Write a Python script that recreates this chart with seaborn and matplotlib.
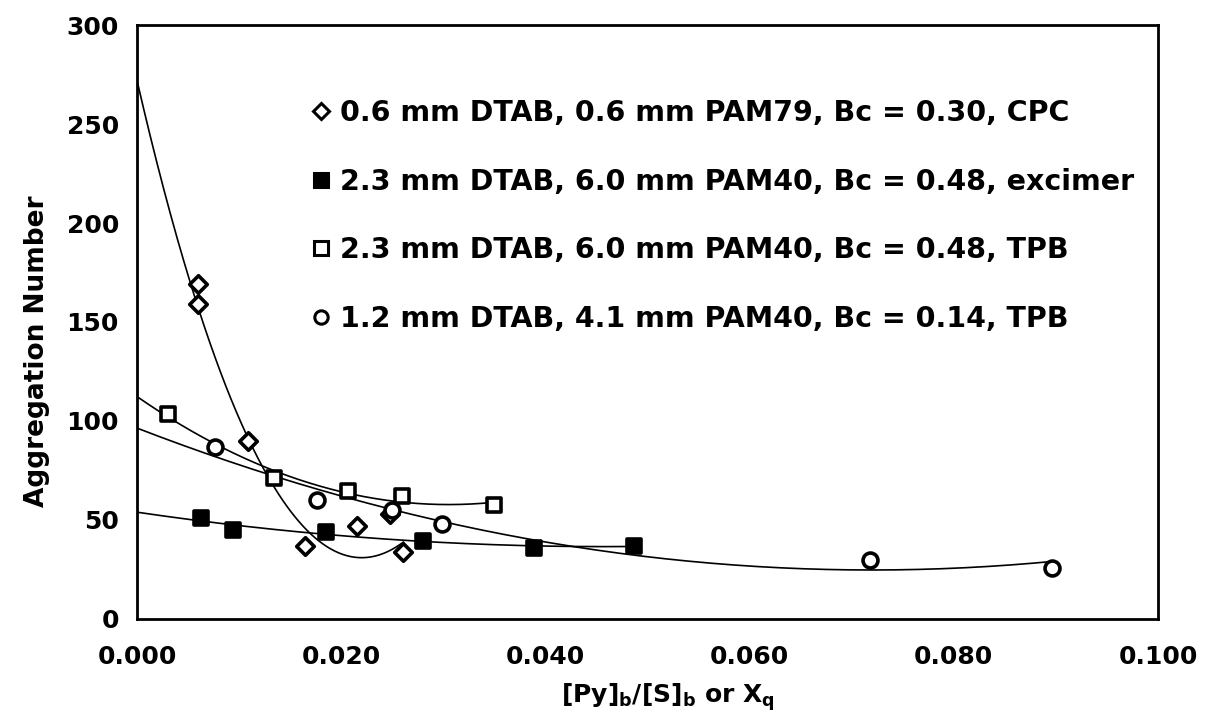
import numpy as np
import pandas as pd
import matplotlib
matplotlib.use("Agg")
import matplotlib.pyplot as plt
import seaborn as sns
from matplotlib.lines import Line2D

# data
cpc_x = [0.0060, 0.0060, 0.0109, 0.0165, 0.0215, 0.0248, 0.0261]
cpc_y = [169, 159, 90, 37, 47, 53, 34]
# cubic trend line of the CPC series, coefficients estimated from the drawn curve
cpc_trend = [-9.39e5, 5.39e5, -2.236e4, 272]

exc_x = [0.0063, 0.0094, 0.0185, 0.0280, 0.0389, 0.0487]
exc_y = [51, 45, 44, 39.5, 36, 37]

tpb1_x = [0.0030, 0.0134, 0.0207, 0.0260, 0.0350]
tpb1_y = [103.5, 71, 64.5, 62, 57.5]

tpb2_x = [0.0076, 0.0176, 0.0250, 0.0299, 0.0718, 0.0896]
tpb2_y = [87, 60, 55, 48, 30, 26]

labels = [
    "0.6 mm DTAB, 0.6 mm PAM79, Bc = 0.30, CPC",
    "2.3 mm DTAB, 6.0 mm PAM40, Bc = 0.48, excimer",
    "2.3 mm DTAB, 6.0 mm PAM40, Bc = 0.48, TPB",
    "1.2 mm DTAB, 4.1 mm PAM40, Bc = 0.14, TPB",
]
x_ticks = [0.0, 0.02, 0.04, 0.06, 0.08, 0.1]
y_ticks = [0, 50, 100, 150, 200, 250, 300]

sns.set_theme(style="white")
plt.rcParams["font.family"] = ["DejaVu Sans"]
plt.rcParams["font.weight"] = "bold"
plt.rcParams["mathtext.fontset"] = "dejavusans"

fig = plt.figure(figsize=(12.05, 7.21), dpi=100)
ax = fig.add_axes([0.1137, 0.1415, 0.8473, 0.8238])

# (x, y, marker, fill, trend: polynomial degree or fixed coefficients)
series = [
    (cpc_x, cpc_y, "D", "white", cpc_trend),
    (exc_x, exc_y, "s", "black", 2),
    (tpb1_x, tpb1_y, "s", "white", 2),
    (tpb2_x, tpb2_y, "o", "white", 2),
]

handles = []
for (xs, ys, mk, fc, fit), lab in zip(series, labels):
    coef = np.polyfit(xs, ys, fit) if isinstance(fit, int) else fit
    xx = np.linspace(0, max(xs), 200)
    trend = pd.DataFrame({"x": xx, "y": np.polyval(coef, xx)})
    sns.lineplot(data=trend, x="x", y="y", ax=ax, color="black", linewidth=1.2)
    pts = pd.DataFrame({"x": xs, "y": ys})
    ms = 10 if mk == "D" else 12
    sns.scatterplot(data=pts, x="x", y="y", ax=ax, marker=mk, s=ms ** 2 * 0.8,
                    facecolor=fc, edgecolor="black", linewidth=2.6, zorder=3)
    handles.append(Line2D([], [], linestyle="none", marker=mk, markersize=ms * 0.8,
                          markerfacecolor=fc, markeredgecolor="black",
                          markeredgewidth=2.2))

ax.set_xlim(0, 0.1)
ax.set_ylim(0, 300)
ax.set_xticks(x_ticks)
ax.set_yticks(y_ticks)
ax.set_xticklabels([f"{t:.3f}" for t in x_ticks])
ax.tick_params(axis="both", direction="inout", length=14, width=1.5,
               labelsize=18, color="black", labelcolor="black")
ax.tick_params(axis="x", pad=12)
ax.tick_params(axis="y", pad=6)
for side in ax.spines.values():
    side.set_color("black")
    side.set_linewidth(2)

ax.set_xlabel(r"[Py]$_{\mathbf{b}}$/[S]$_{\mathbf{b}}$ or X$_{\mathbf{q}}$",
              fontsize=18, fontweight="bold", color="black")
ax.set_ylabel("Aggregation Number", fontsize=19, fontweight="bold", color="black")
ax.xaxis.set_label_coords(0.52, -0.105)
ax.yaxis.set_label_coords(-0.085, 0.45)

ax.legend(handles, labels, loc="upper left", bbox_to_anchor=(0.172, 0.875),
          frameon=False, fontsize=20.5, handlelength=0.6, handletextpad=0.35,
          labelspacing=1.42, borderpad=0, borderaxespad=0, labelcolor="black")

fig.savefig("out.png", dpi=100)
